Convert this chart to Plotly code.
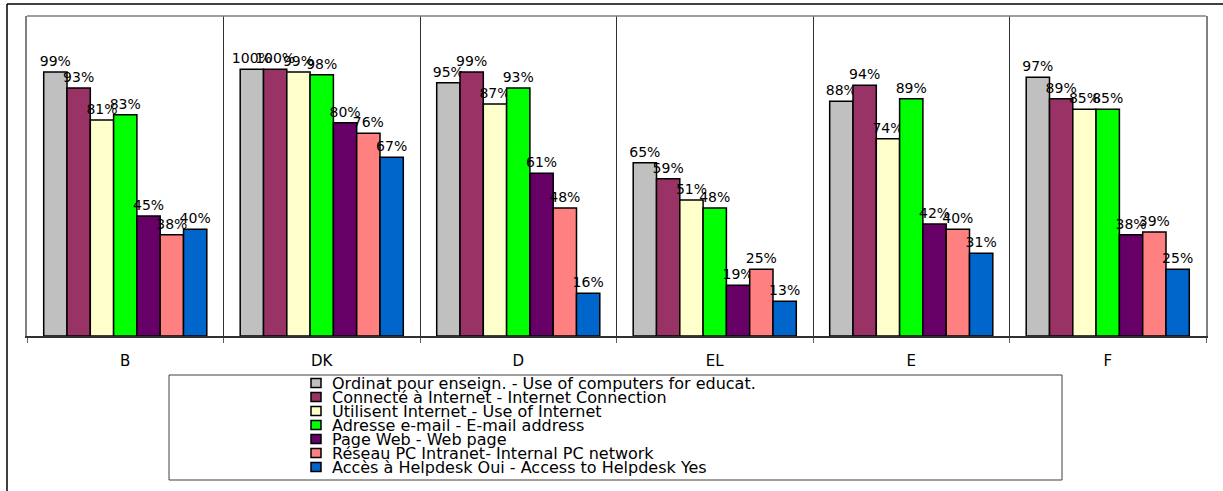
import plotly.graph_objects as go

categories = ["B", "DK", "D", "EL", "E", "F"]
series_names = [
    "Ordinat pour enseign. - Use of computers for educat.",
    "Connecté à Internet - Internet Connection",
    "Utilisent Internet - Use of Internet",
    "Adresse e-mail - E-mail address",
    "Page Web - Web page",
    "Réseau PC Intranet- Internal PC network",
    "Accès à Helpdesk Oui - Access to Helpdesk Yes",
]
ordinat = [99, 100, 95, 65, 88, 97]
connecte = [93, 100, 99, 59, 94, 89]
utilisent = [81, 99, 87, 51, 74, 85]
email = [83, 98, 93, 48, 89, 85]
page_web = [45, 80, 61, 19, 42, 38]
reseau = [38, 76, 48, 25, 40, 39]
helpdesk = [40, 67, 16, 13, 31, 25]
series_values = [ordinat, connecte, utilisent, email, page_web, reseau, helpdesk]
colors = ["#C0C0C0", "#993366", "#FFFFCC", "#00FF00", "#660066", "#FF8080", "#0066CC"]

W, H = 1223, 491
L, R, T, B = 27, 1206, 16, 336

def px(x):
    return (x - L) / (R - L)

def py(y):
    return (B - y) / (B - T)

FONT = "DejaVu Sans, Arial, sans-serif"

fig = go.Figure()
for name, vals, col in zip(series_names, series_values, colors):
    fig.add_trace(go.Bar(
        x=categories, y=vals, name=name,
        marker=dict(color=col, line=dict(color="black", width=1.5)),
        text=[f"{v}%" for v in vals], textposition="outside",
        constraintext="none", cliponaxis=False,
        textfont=dict(family=FONT, size=14, color="black"),
        showlegend=False,
    ))

shapes = [
    # outer frame (top and left)
    dict(type="line", xref="paper", yref="paper", x0=px(7), x1=px(1223), y0=py(4), y1=py(4),
         line=dict(color="black", width=1.5)),
    dict(type="line", xref="paper", yref="paper", x0=px(7), x1=px(7), y0=py(4), y1=py(491),
         line=dict(color="black", width=1.5)),
    # top of plot area
    dict(type="line", xref="paper", yref="paper", x0=0, x1=1, y0=1, y1=1,
         line=dict(color="#808080", width=1.5)),
    # legend box
    dict(type="rect", xref="paper", yref="paper", x0=px(169), x1=px(1062), y0=py(375), y1=py(480),
         line=dict(color="#404040", width=1), fillcolor="rgba(0,0,0,0)"),
]
annotations = []
row0, step = 383, 14
for i, (name, col) in enumerate(zip(series_names, colors)):
    yc = row0 + i * step
    shapes.append(dict(type="rect", xref="paper", yref="paper",
                       x0=px(311), x1=px(321), y0=py(yc - 4.5), y1=py(yc + 4.5),
                       line=dict(color="black", width=1.5), fillcolor=col))
    annotations.append(dict(xref="paper", yref="paper", x=px(330), y=py(yc + 0.5),
                            xanchor="left", yanchor="middle", showarrow=False, text=name,
                            font=dict(family=FONT, size=16, color="black")))

fig.update_layout(
    width=W, height=H,
    margin=dict(l=L, r=W - R, t=T, b=H - B),
    paper_bgcolor="white", plot_bgcolor="white",
    barmode="group", bargap=0.17, bargroupgap=0,
    shapes=shapes, annotations=annotations,
    xaxis=dict(tickson="boundaries", showgrid=True, gridcolor="#303030", gridwidth=1,
               ticks="outside", ticklen=5, tickcolor="#606060",
               showline=True, linecolor="#303030", linewidth=1.5,
               ticklabelstandoff=10,
               tickfont=dict(family=FONT, size=15, color="black")),
    yaxis=dict(range=[0, 120], showticklabels=False, showgrid=False, zeroline=False,
               ticks="", showline=True, mirror=True, linecolor="#808080", linewidth=1.5),
)

fig.write_html("out.html", config={"displayModeBar": False},
               post_script="document.body.style.margin='0';")
